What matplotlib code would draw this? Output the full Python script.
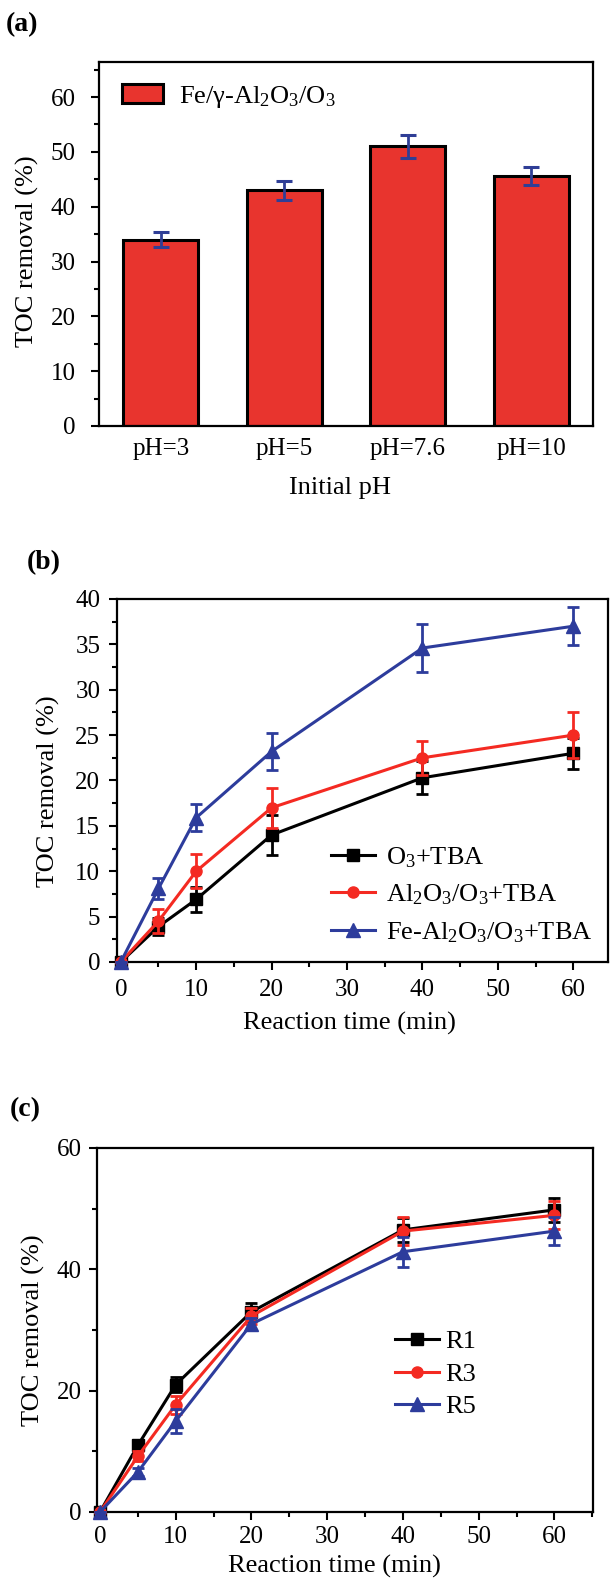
import matplotlib
matplotlib.use('Agg')
import matplotlib.pyplot as plt
from matplotlib.ticker import MultipleLocator
import numpy as np

plt.rcParams['font.family'] = ['Liberation Serif', 'DejaVu Serif']
plt.rcParams['mathtext.fontset'] = 'custom'
plt.rcParams['mathtext.rm'] = 'Liberation Serif'
plt.rcParams['mathtext.it'] = 'Liberation Serif:italic'
plt.rcParams['mathtext.default'] = 'regular'

# ---------------- data ----------------
ph_labels = ['pH=3', 'pH=5', 'pH=7.6', 'pH=10']
toc_ph = [34.0, 43.0, 51.0, 45.6]
toc_ph_err = [1.4, 1.7, 2.1, 1.7]

time_b = [0, 5, 10, 20, 40, 60]
o3_tba = [0, 3.9, 6.9, 14.0, 20.3, 23.0]
o3_tba_err = [0, 0.9, 1.4, 2.2, 1.8, 1.7]
al_tba = [0, 4.5, 10.0, 17.0, 22.5, 25.0]
al_tba_err = [0, 1.3, 1.9, 2.2, 1.9, 2.5]
fe_tba = [0, 8.1, 15.9, 23.2, 34.6, 37.0]
fe_tba_err = [0, 1.2, 1.5, 2.0, 2.6, 2.1]

time_c = [0, 5, 10, 20, 40, 60]
r1 = [0, 11.0, 21.0, 33.0, 46.5, 49.8]
r1_err = [0, 0.8, 1.3, 1.5, 2.0, 2.0]
r3 = [0, 9.2, 17.7, 32.3, 46.3, 48.9]
r3_err = [0, 0.8, 1.5, 1.3, 2.3, 2.3]
r5 = [0, 6.6, 15.0, 31.0, 42.9, 46.3]
r5_err = [0, 0.7, 1.9, 1.0, 2.5, 2.3]

BAR_RED = '#E8342E'
NAVY = '#2F3E96'
RED = '#F42A22'
BLUE = '#2D3C9C'

FS = 19
TFS = 18
W, H = 610, 1582
fig = plt.figure(figsize=(W / 100, H / 100), dpi=100)


def axes_px(left, right, top, bottom):
    return fig.add_axes([left / W, 1 - bottom / H, (right - left) / W, (bottom - top) / H])


def style(ax, ypad, xpad):
    for s in ax.spines.values():
        s.set_linewidth(1.6)
    ax.tick_params(axis='both', which='both', direction='out', width=1.5,
                   labelsize=TFS, top=False, right=False)
    ax.tick_params(axis='both', which='major', length=6)
    ax.tick_params(axis='both', which='minor', length=3.5)
    ax.tick_params(axis='y', pad=ypad)
    ax.tick_params(axis='x', pad=xpad)


# ---------------- (a) ----------------
axa = axes_px(99, 593, 62, 426)
xa = np.arange(len(ph_labels))
axa.bar(xa, toc_ph, width=0.61, color=BAR_RED, edgecolor='black', linewidth=2.2,
        label='Fe/γ-Al$_2$O$_3$/O$_3$', zorder=2)
axa.errorbar(xa, toc_ph, yerr=toc_ph_err, fmt='none', ecolor=NAVY, elinewidth=2,
             capsize=5.5, capthick=2.2, zorder=3)
axa.set_xlim(-0.5, 3.5)
axa.set_ylim(0, 66.4)
axa.set_xticks(xa)
axa.set_xticklabels(ph_labels)
axa.yaxis.set_major_locator(MultipleLocator(10))
axa.yaxis.set_minor_locator(MultipleLocator(5))
style(axa, ypad=11, xpad=9)
axa.tick_params(axis='x', which='both', length=0)
axa.set_ylabel('TOC removal (%)', fontsize=FS, va='center')
axa.yaxis.set_label_coords((27 - 99) / 494, 0.48)
axa.set_xlabel('Initial pH', fontsize=FS, va='center')
axa.xaxis.set_label_coords((340 - 99) / 494, -62 / 364)
axa.legend(loc='center left', bbox_to_anchor=((122 - 99) / 494, 1 - (97 - 62) / 364),
           frameon=False, fontsize=FS, handlelength=1.55, handleheight=0.75,
           handletextpad=0.6, borderpad=0, borderaxespad=0)
fig.text(6 / W, 1 - 25 / H, '(a)', fontsize=20, fontweight='bold', ha='left', va='center')

# ---------------- (b) ----------------
axb = axes_px(117, 608, 599, 962)
series_b = [
    (o3_tba, o3_tba_err, 'black', 's', 'O$_3$+TBA'),
    (al_tba, al_tba_err, RED, 'o', 'Al$_2$O$_3$/O$_3$+TBA'),
    (fe_tba, fe_tba_err, BLUE, '^', 'Fe-Al$_2$O$_3$/O$_3$+TBA'),
]
for i, (y, e, c, m, lab) in enumerate(series_b):
    axb.errorbar(time_b, y, yerr=e, color=c, marker=m, markersize=8 if m != '^' else 9.5,
                 linewidth=2.2, elinewidth=2, capsize=4.5, capthick=2,
                 label=lab, clip_on=False, zorder=3 + i)
axb.set_xlim(-0.5, 64.6)
axb.set_ylim(0, 40)
axb.xaxis.set_major_locator(MultipleLocator(10))
axb.xaxis.set_minor_locator(MultipleLocator(5))
axb.yaxis.set_major_locator(MultipleLocator(5))
axb.yaxis.set_minor_locator(MultipleLocator(2.5))
style(axb, ypad=6, xpad=6)
axb.set_ylabel('TOC removal (%)', fontsize=FS, va='center')
axb.yaxis.set_label_coords((48 - 117) / 491, 0.47)
axb.set_xlabel('Reaction time (min)', fontsize=FS, va='center')
axb.xaxis.set_label_coords((349 - 117) / 491, -(1023 - 962) / 363)
hb, lb = axb.get_legend_handles_labels()
hb = [h[0] for h in hb]
axb.legend(hb, lb, loc='center left', bbox_to_anchor=((331 - 117) / 491, 1 - (895 - 599) / 363),
           frameon=False, fontsize=FS, handlelength=1.65, handletextpad=0.42,
           labelspacing=0.5, borderpad=0, borderaxespad=0, numpoints=1)
fig.text(27 / W, 1 - 563 / H, '(b)', fontsize=20, fontweight='bold', ha='left', va='center')

# ---------------- (c) ----------------
axc = axes_px(97, 593, 1148, 1512)
series_c = [
    (r1, r1_err, 'black', 's', 'R1'),
    (r3, r3_err, RED, 'o', 'R3'),
    (r5, r5_err, BLUE, '^', 'R5'),
]
for i, (y, e, c, m, lab) in enumerate(series_c):
    axc.errorbar(time_c, y, yerr=e, color=c, marker=m, markersize=8 if m != '^' else 9.5,
                 linewidth=2.2, elinewidth=2, capsize=4.5, capthick=2,
                 label=lab, clip_on=False, zorder=3 + i)
axc.set_xlim(-0.4, 65.1)
axc.set_ylim(0, 60)
axc.xaxis.set_major_locator(MultipleLocator(10))
axc.xaxis.set_minor_locator(MultipleLocator(5))
axc.yaxis.set_major_locator(MultipleLocator(20))
axc.yaxis.set_minor_locator(MultipleLocator(10))
style(axc, ypad=5, xpad=4)
axc.set_ylabel('TOC removal (%)', fontsize=FS, va='center')
axc.yaxis.set_label_coords((33 - 97) / 496, 0.5)
axc.set_xlabel('Reaction time (min)', fontsize=FS, va='center')
axc.xaxis.set_label_coords((334 - 97) / 496, -(1566 - 1512) / 364)
hc, lc = axc.get_legend_handles_labels()
hc = [h[0] for h in hc]
axc.legend(hc, lc, loc='center left', bbox_to_anchor=((395 - 97) / 496, 1 - (1374 - 1148) / 364),
           frameon=False, fontsize=FS, handlelength=1.65, handletextpad=0.25,
           labelspacing=0.35, borderpad=0, borderaxespad=0, numpoints=1)
fig.text(10 / W, 1 - 1110 / H, '(c)', fontsize=20, fontweight='bold', ha='left', va='center')

fig.savefig('out.png', dpi=100)
